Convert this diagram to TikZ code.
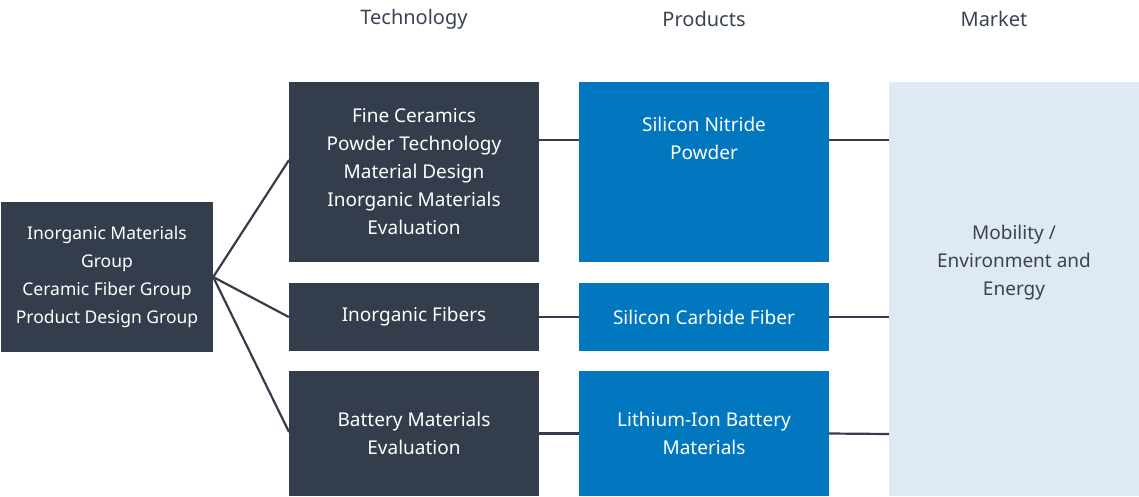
\documentclass[tikz,border=0pt]{standalone}
\usepackage{fontspec}
\setmainfont{Noto Sans}
\begin{document}
\begin{tikzpicture}[x=1pt,y=-1pt,
  dk/.style={fill=dkc,draw=none,text=white,align=center,font=\fontsize{19}{28}\selectfont},
  bl/.style={fill=blc,draw=none,text=white,align=center,font=\fontsize{19}{28}\selectfont},
  hd/.style={text=hdc,font=\fontsize{20}{24}\selectfont},
  ln/.style={draw=dkc,line width=2.2pt}]
\definecolor{dkc}{HTML}{343D4B}
\definecolor{blc}{HTML}{0077BF}
\definecolor{ltc}{HTML}{DFE9F3}
\definecolor{hdc}{HTML}{3A4352}
\useasboundingbox (0,0) rectangle (1139,496);
\node[hd] (h1) at (414,19) {Technology};
\node[hd] (h2) at (704,19) {Products};
\node[hd] (h3) at (994,19) {Market};
\node[dk,minimum width=212,minimum height=150,font=\fontsize{17.5}{28}\selectfont] (L) at (107,277) {Inorganic Materials\\Group\\Ceramic Fiber Group\\Product Design Group};
\node[dk,minimum width=250,minimum height=180] (T1) at (414,172) {Fine Ceramics\\Powder Technology\\Material Design\\Inorganic Materials\\Evaluation};
\node[dk,minimum width=250,minimum height=68] (T2) at (414,317) {Inorganic Fibers};
\node[dk,minimum width=250,minimum height=125] (T3) at (414,433.5) {Battery Materials\\Evaluation};
\node[bl,minimum width=250,minimum height=180] (P1) at (704,172) {Silicon Nitride\\Powder\\[40pt]};
\node[bl,minimum width=250,minimum height=68] (P2) at (704,317) {Silicon Carbide Fiber};
\node[bl,minimum width=250,minimum height=125] (P3) at (704,433.5) {Lithium-Ion Battery\\Materials};
\node[fill=ltc,minimum width=250,minimum height=414,text=hdc,align=center,font=\fontsize{19}{28}\selectfont] (M) at (1014,289) {Mobility /\\Environment and\\Energy\\[30pt]};
\coordinate (t1w) at (289,160);
\coordinate (t3w) at (289,432);
\coordinate (t1e) at (539,140);
\coordinate (p1w) at (579,140);
\coordinate (p1e) at (829,140);
\coordinate (m1) at (889,140);
\coordinate (m2) at (889,317);
\coordinate (m3) at (889,434);
\draw[ln] (L.east) -- (t1w);
\draw[ln] (L.east) -- (T2.west);
\draw[ln] (L.east) -- (t3w);
\draw[ln] (t1e) -- (p1w);
\draw[ln] (T2.east) -- (P2.west);
\draw[ln] (T3.east) -- (P3.west);
\draw[ln] (p1e) -- (m1);
\draw[ln] (P2.east) -- (m2);
\draw[ln] (P3.east) -- (m3);
\end{tikzpicture}
\end{document}
